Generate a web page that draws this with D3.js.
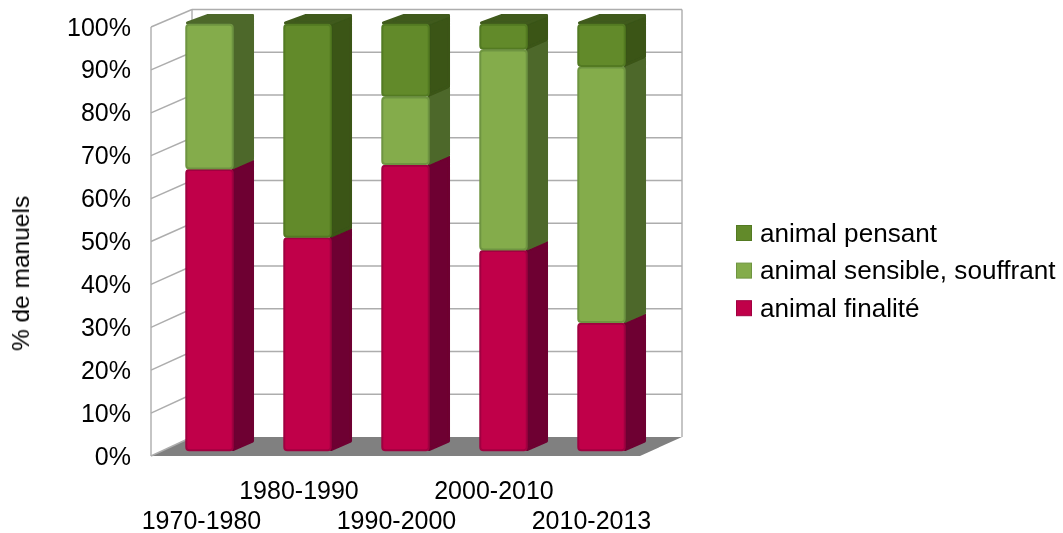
<!DOCTYPE html>
<html><head><meta charset="utf-8">
<script src="https://cdn.jsdelivr.net/npm/d3@7/dist/d3.min.js"></script>
<style>html,body{margin:0;padding:0;background:#fff}svg{display:block}text{font-family:"Liberation Sans",Arial,sans-serif;fill:#000}</style>
</head><body><svg id="c" width="1063" height="533"></svg>
<script>
const categories=["1970-1980","1980-1990","1990-2000","2000-2010","2010-2013"];
const seriesNames=["animal finalité","animal sensible, souffrant","animal pensant"];
const finalite=[66,50,67,47,30];
const sensible=[34,0,16,47,60];
const pensant=[0,50,17,6,10];
const seriesValues=[finalite,sensible,pensant];
const yTicks=[0,10,20,30,40,50,60,70,80,90,100];
const frontColors=["#C0004A","#84AC4C","#628A2A"];
const edgeColors=["#A00040","#6E9440","#527A22"];
const sideColors=["#6E0030","#4E682C","#3A5418"];
const topColors=["#7A0034","#4E682C","#3F5A1C"];

const svg=d3.select("#c");
const blur=svg.append("defs").append("filter").attr("id","soft");
blur.append("feGaussianBlur").attr("stdDeviation",0.4);
const root=svg.append("g").attr("filter","url(#soft)");

const frontY=d3.scaleLinear().domain([0,100]).range([456,27]);
const backY=d3.scaleLinear().domain([0,100]).range([437,9.5]);
const barY=d3.scaleLinear().domain([0,100]).range([451,24]);
const x=d3.scaleBand().domain(categories).range([160.5,650.5]).paddingInner(.52).paddingOuter(.26);
const labelX=d3.scalePoint().domain(categories).range([201,591]);
const L0=151,L1=192,R0=640,R1=682,dx=21,dy=10;
const grid="#ADADAD";

// floor
root.append("polygon").attr("fill","#808080")
  .attr("points",[[L0,frontY(0)],[R0,frontY(0)],[R1,backY(0)],[L1,backY(0)]].join(" "));
// walls
const g=root.append("g").attr("stroke",grid).attr("stroke-width",1.4).attr("fill","none");
g.selectAll("line.b").data(yTicks.slice(1)).join("line").attr("x1",L1).attr("x2",R1).attr("y1",d=>backY(d)).attr("y2",d=>backY(d));
g.selectAll("line.s").data(yTicks.slice(1)).join("line").attr("x1",L0).attr("x2",L1).attr("y1",d=>frontY(d)).attr("y2",d=>backY(d));
g.append("line").attr("x1",L0).attr("x2",L0).attr("y1",frontY(100)).attr("y2",frontY(0));
g.append("line").attr("x1",L1).attr("x2",L1).attr("y1",backY(100)).attr("y2",backY(0));
g.append("line").attr("x1",R1).attr("x2",R1).attr("y1",backY(100)).attr("y2",backY(0));
g.append("line").attr("x1",L0).attr("x2",L1).attr("y1",frontY(0)).attr("y2",backY(0));

// bars
categories.forEach((c,i)=>{
  let base=0;
  const bx=x(c),w=x.bandwidth();
  const lastIdx=d3.max(seriesValues.map((s,k)=>s[i]>0?k:-1));
  seriesValues.forEach((s,k)=>{
    const v=s[i]; if(!v) return;
    const y0=barY(base),y1=barY(base+v);
    base+=v;
    const b=root.append("g");
    b.append("polygon").attr("fill",sideColors[k]).attr("stroke",sideColors[k]).attr("stroke-width",3).attr("stroke-linejoin","round")
      .attr("points",[[bx+w,y0-1.5],[bx+w+dx-1.5,y0-dy],[bx+w+dx-1.5,y1-dy+1.5],[bx+w,y1]].join(" "));
    if(k===lastIdx){
      b.append("polygon").attr("fill",topColors[k]).attr("stroke",topColors[k]).attr("stroke-width",3).attr("stroke-linejoin","round")
        .attr("points",[[bx+1.5,y1-1],[bx+w,y1-1],[bx+w+dx-1.5,y1-dy+1.5],[bx+dx+1,y1-dy+1.5]].join(" "));
    }
    b.append("rect").attr("x",bx+0.3).attr("y",y1+0.8).attr("width",w-0.6).attr("height",y0-y1-1.6).attr("rx",3)
      .attr("fill",frontColors[k]).attr("stroke",edgeColors[k]).attr("stroke-width",2);
  });
});

// y axis
const ya=root.append("g").attr("transform",`translate(${L0},0)`)
  .call(d3.axisLeft(frontY).tickValues(yTicks).tickSize(0).tickPadding(20).tickFormat(d=>d+"%"));
ya.select(".domain").remove();
ya.selectAll("text").style("font-size","25px").style("font-family",'"Liberation Sans"');

// x axis
const xa=root.append("g").call(d3.axisBottom(labelX).tickSize(0));
xa.select(".domain").remove();
xa.selectAll("text").style("font-size","25px").style("font-family",'"Liberation Sans"')
  .attr("y",0).attr("dy",0).attr("transform",(d,i)=>`translate(0,${i%2?499:529})`);

// y title
root.append("text").attr("transform","translate(29,273.5) rotate(-90)").attr("text-anchor","middle").style("font-size","24.5px").text("% de manuels");

// legend
const legendOrder=[2,1,0];
const leg=root.append("g");
legendOrder.forEach((k,i)=>{
  const cy=233+i*37.6;
  leg.append("rect").attr("x",736.5).attr("y",cy-7.5).attr("width",15).attr("height",15).attr("fill",frontColors[k]).attr("stroke",edgeColors[k]).attr("stroke-width",1);
  leg.append("text").attr("x",760).attr("y",cy+8.5).style("font-size","26.1px").text(seriesNames[k]);
});
</script></body></html>
